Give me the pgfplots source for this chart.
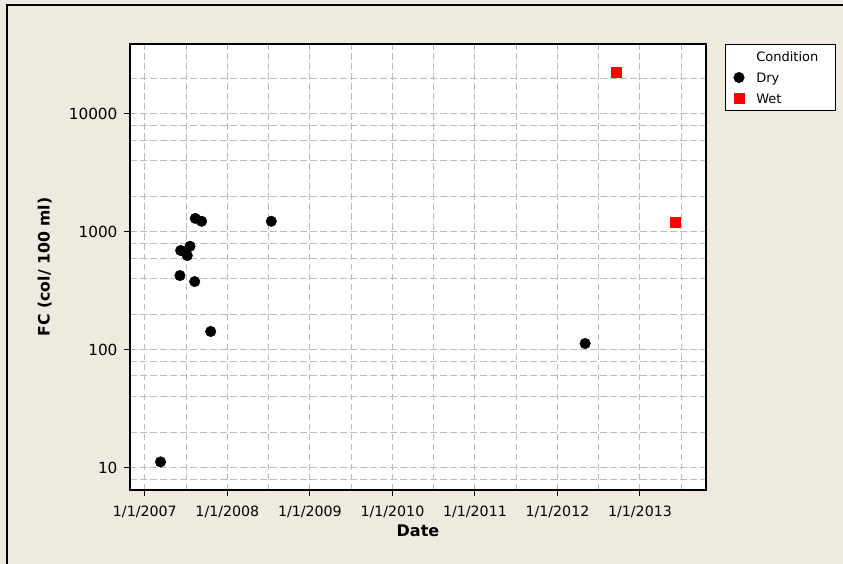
\documentclass[border=0pt]{standalone}
\usepackage{fontspec}
\setmainfont{DejaVu Sans}
\usepackage{pgfplots}
\pgfplotsset{compat=1.18}
\definecolor{bgbeige}{RGB}{239,234,223}
\definecolor{gridgray}{RGB}{188,188,188}
\begin{document}
\begin{tikzpicture}
\fill[bgbeige] (0pt,0pt) rectangle (843pt,-564pt);
\draw[black, line width=1.8pt] (7pt,-564pt) -- (7pt,-5pt) -- (843pt,-5pt);
\begin{axis}[
  at={(130pt,-490pt)}, anchor=south west,
  width=576pt, height=446pt, scale only axis,
  xmin=2006.82, xmax=2013.80,
  ymode=log, ymin=6.47, ymax=39200,
  axis background/.style={fill=white},
  axis line style={line width=1.6pt},
  xtick={2007,2008,2009,2010,2011,2012,2013},
  xticklabels={1/1/2007,1/1/2008,1/1/2009,1/1/2010,1/1/2011,1/1/2012,1/1/2013},
  minor xtick={2007.5,2008.5,2009.5,2010.5,2011.5,2012.5,2013.5},
  ytick={10,100,1000,10000},
  yticklabels={10,100,1000,10000},
  minor ytick={8,20,40,60,80,200,400,600,800,2000,4000,6000,8000,20000},
  grid=both,
  major grid style={gridgray, dash pattern=on 6.5pt off 3.5pt, line width=1pt},
  minor grid style={gridgray, dash pattern=on 6.5pt off 3.5pt, line width=1pt},
  tick align=outside, tick pos=left,
  major tick length=6pt, minor tick length=0pt,
  tick style={black, line width=1pt},
  xticklabel style={font=\fontsize{14.2}{16}\selectfont, yshift=-6pt},
  yticklabel style={font=\fontsize{15.3}{17}\selectfont, xshift=-3pt},
  xlabel={Date},
  ylabel={FC (col/ 100 ml)},
  every axis x label/.style={at={(rel axis cs:0.5,0)}, yshift=-41pt, anchor=center, font=\fontsize{16}{18}\selectfont\bfseries},
  every axis y label/.style={at={(rel axis cs:0,0.5)}, xshift=-85.3pt, rotate=90, anchor=center, font=\fontsize{15.7}{18}\selectfont\bfseries},
  legend cell align=left,
  legend image code/.code={\draw[mark repeat=2,mark phase=2,#1] plot coordinates {(0pt,0pt) (7pt,0pt) (14pt,0pt)};},
  legend style={at={(1.033,1)}, anchor=north west, draw=black, line width=1pt, fill=white,
    font=\fontsize{13}{15}\selectfont, inner xsep=6.5pt, inner ysep=6pt,
    row sep=9pt, column sep=12pt,
    nodes={inner sep=0pt, text height=11pt, text depth=1pt}},
]
\addlegendimage{empty legend}
\addlegendentry{Condition\hspace*{11pt}}
\addplot[only marks, mark=*, mark size=5.3pt, mark options={draw=black, fill=black, line width=0.4pt}] table {
x y
2007.19 11.2
2007.425 426
2007.434 695
2007.514 630
2007.547 755
2007.604 379
2007.611 1300
2007.688 1230
2007.798 143
2008.532 1230
2012.335 113
};
\addlegendentry{Dry}
\addplot[only marks, mark=square*, mark size=5pt, mark options={draw=red, fill=red, line width=0.4pt}] table {
x y
2012.714 22700
2013.429 1216
};
\addlegendentry{Wet}
\end{axis}
\pgfresetboundingbox
\path (0pt,0pt) rectangle (843pt,-564pt);
\end{tikzpicture}
\end{document}
